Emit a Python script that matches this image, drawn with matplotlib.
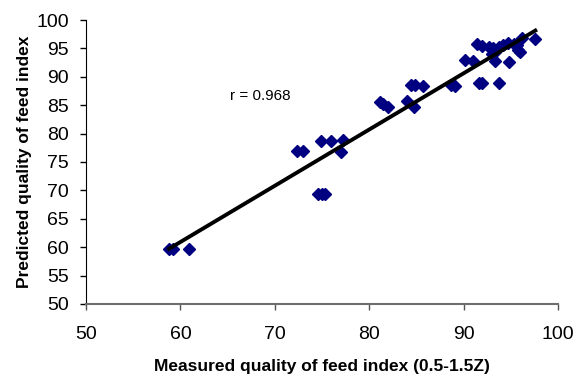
import numpy as np
import matplotlib.pyplot as plt

plt.rcParams["font.family"] = ["Liberation Sans", "DejaVu Sans"]

measured = [58.8, 59.2, 60.9, 72.4, 73.0, 74.9, 76.0, 77.2, 77.0, 74.6, 75.0, 75.3,
            81.1, 81.5, 82.0, 84.0, 84.7, 84.4, 84.9, 85.7, 88.7, 89.1, 90.1, 91.0,
            91.6, 91.9, 93.8, 91.4, 92.0, 92.7, 93.1, 93.7, 94.2, 94.7, 95.3, 93.0,
            93.3, 93.3, 94.8, 95.8, 96.0, 96.2, 97.6, 95.7]
predicted = [59.7, 59.6, 59.7, 76.9, 76.9, 78.75, 78.75, 78.9, 76.8, 69.4, 69.4, 69.4,
             85.6, 85.2, 84.6, 85.7, 84.6, 88.5, 88.5, 88.4, 88.5, 88.4, 93.0, 92.7,
             88.9, 88.9, 88.9, 95.8, 95.5, 95.3, 95.1, 95.2, 95.6, 95.9, 95.7, 94.1,
             94.4, 92.7, 92.6, 94.7, 94.3, 96.8, 96.7, 95.6]
r_label = "r = 0.968"

x = np.array(measured)
y = np.array(predicted)

fig = plt.figure(figsize=(5.76, 3.87), dpi=100)
ax = fig.add_axes([0.1493, 0.2145, 0.8194, 0.7338])

ax.plot(x, y, "D", color="#000080", ms=5.8, mec="#000080", zorder=3)

# linear trend line over the data range
k, b = np.polyfit(x, y, 1)
xl = np.array([x.min(), x.max()])
ax.plot(xl, k * xl + b, color="black", lw=2.8, zorder=4)

ax.text(68.5, 86.6, r_label, fontsize=11, ha="center", va="center")

ax.set_xlim(50, 100)
ax.set_ylim(50, 100)
ax.set_xticks(np.arange(50, 101, 10))
ax.set_yticks(np.arange(50, 101, 5))
ax.tick_params(axis="both", labelsize=14, direction="out", length=4.5, width=1)
ax.tick_params(axis="x", pad=11, color="#555555")
ax.tick_params(axis="y", pad=8)

ax.spines["top"].set_visible(False)
ax.spines["right"].set_visible(False)
ax.spines["left"].set_color("black")
ax.spines["bottom"].set_color("#6e6e6e")
ax.spines["bottom"].set_linewidth(1.5)

ax.set_xlabel("Measured quality of feed index (0.5-1.5Z)", fontsize=12.5,
              fontweight="bold", labelpad=12)
ax.set_ylabel("Predicted quality of feed index", fontsize=12.5,
              fontweight="bold", labelpad=3)

fig.savefig("out.png", dpi=100)
